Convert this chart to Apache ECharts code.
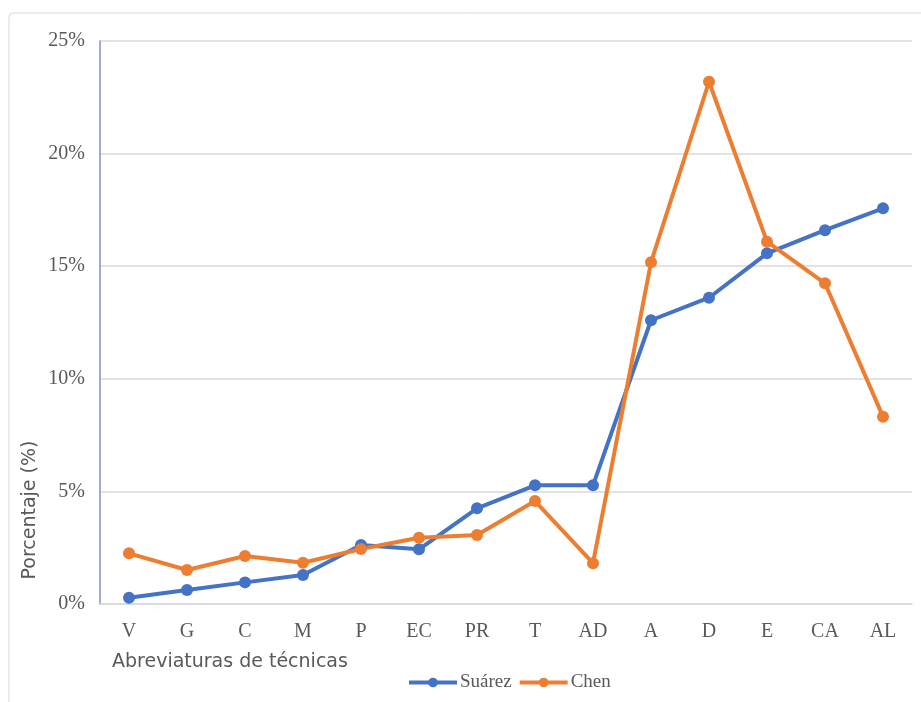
<!DOCTYPE html>
<html>
<head>
<meta charset="utf-8">
<script src="https://cdn.jsdelivr.net/npm/echarts@6/dist/echarts.min.js"></script>
<style>
  html, body { margin: 0; padding: 0; background: #fff; }
  #chart { width: 921px; height: 702px; }
</style>
</head>
<body>
<div id="chart"></div>
<script>
// Technique abbreviations along the x axis
const categories = ['V', 'G', 'C', 'M', 'P', 'EC', 'PR', 'T', 'AD', 'A', 'D', 'E', 'CA', 'AL'];
// Percentage of use per technique (%)
const suarez = [0.28, 0.62, 0.96, 1.29, 2.62, 2.43, 4.25, 5.27, 5.27, 12.6, 13.6, 15.57, 16.6, 17.57];
const chen = [2.25, 1.51, 2.13, 1.83, 2.44, 2.94, 3.06, 4.57, 1.81, 15.17, 23.19, 16.09, 14.24, 8.32];
const yTicks = { min: 0, max: 25, interval: 5 };

const chart = echarts.init(document.getElementById('chart'), null, { renderer: 'canvas' });

const serif = '"Liberation Serif", "DejaVu Serif", serif';
const sans = '"DejaVu Sans", "Liberation Sans", sans-serif';

function lineSeries(name, data, color) {
  return {
    name: name,
    type: 'line',
    data: data,
    symbol: 'circle',
    symbolSize: 12,
    lineStyle: { width: 4, color: color },
    itemStyle: { color: color },
    emphasis: { disabled: true },
    animation: false
  };
}

chart.setOption({
  animation: false,
  backgroundColor: '#fff',
  grid: { left: 100, right: 9, top: 41, bottom: 98, containLabel: false },
  xAxis: {
    type: 'category',
    data: categories,
    boundaryGap: true,
    axisLine: { show: true, lineStyle: { color: '#d9d9d9', width: 1.5 } },
    axisTick: { show: false },
    axisLabel: { color: '#595959', fontFamily: serif, fontSize: 20, margin: 18 }
  },
  yAxis: {
    type: 'value',
    min: yTicks.min,
    max: yTicks.max,
    interval: yTicks.interval,
    axisLine: { show: true, lineStyle: { color: '#7f91c6', width: 1.5 } },
    axisTick: { show: false },
    splitLine: { show: true, lineStyle: { color: '#d9d9d9', width: 1.5 } },
    axisLabel: { color: '#595959', fontFamily: serif, fontSize: 20, margin: 15, formatter: '{value}%' }
  },
  legend: {
    bottom: 5,
    left: 402,
    itemWidth: 48,
    itemHeight: 12,
    itemGap: 6,
    lineStyle: { width: 4 },
    textStyle: { color: '#595959', fontFamily: serif, fontSize: 19, padding: [0, 0, 0, -2] },
    data: ['Suárez', 'Chen']
  },
  graphic: [
    {
      type: 'rect',
      silent: true,
      z: -10,
      shape: { x: 9, y: 13, width: 930, height: 720, r: 4 },
      style: { fill: 'none', stroke: '#d9d9d9', lineWidth: 1 }
    },
    {
      type: 'text',
      left: 112,
      top: 653,
      style: { text: 'Abreviaturas de técnicas', fill: '#595959', font: '19px ' + sans }
    },
    {
      type: 'text',
      x: 30,
      y: 510,
      rotation: Math.PI / 2,
      style: { text: 'Porcentaje (%)', fill: '#595959', font: '19px ' + sans, align: 'center', verticalAlign: 'middle' }
    }
  ],
  series: [
    lineSeries('Suárez', suarez, '#4472c4'),
    lineSeries('Chen', chen, '#ed7d31')
  ]
});
</script>
</body>
</html>
